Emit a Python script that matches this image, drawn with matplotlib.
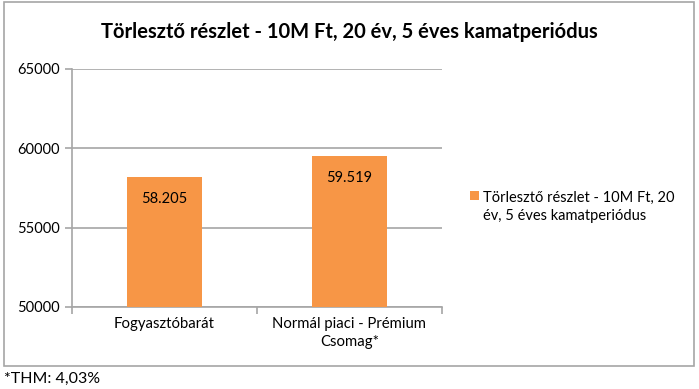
import matplotlib

matplotlib.use("Agg")
import matplotlib.pyplot as plt
from matplotlib.patches import Rectangle

# chart data
categories = ["Fogyasztóbarát", "Normál piaci - Prémium\nCsomag*"]
values = [58205, 59519]
value_labels = ["58.205", "59.519"]
y_ticks = [50000, 55000, 60000, 65000]
title = "Törlesztő részlet - 10M Ft, 20 év, 5 éves kamatperiódus"
series_name = "Törlesztő részlet - 10M Ft, 20\név, 5 éves kamatperiódus"
footnote = "*THM: 4,03%"

BAR_COLOR = "#F79646"
GRID_COLOR = "#A6A6A6"
FONT = ["Lato", "DejaVu Sans"]

plt.rcParams["font.family"] = FONT

W, H = 699, 389
fig = plt.figure(figsize=(W / 100, H / 100), dpi=100)
fig.patch.set_facecolor("white")

# outer chart frame
fig.patches.append(
    Rectangle((4 / W, 1 - 366 / H), 690 / W, 364 / H, transform=fig.transFigure,
              facecolor="none", edgecolor="#A6A6A6", linewidth=1.2)
)

ax = fig.add_axes([72 / W, 1 - 307 / H, 370 / W, 238 / H])
x = list(range(len(categories)))
ax.bar(x, values, width=0.41, color=BAR_COLOR, zorder=3)
ax.set_xlim(-0.5, len(categories) - 0.5)
ax.set_ylim(y_ticks[0], y_ticks[-1])
ax.set_yticks(y_ticks)
ax.set_yticklabels([str(t) for t in y_ticks], fontsize=10.5)
ax.yaxis.grid(True, color=GRID_COLOR, linewidth=1.2, zorder=0)

ax.set_xticks([i - 0.5 for i in range(len(categories) + 1)])
ax.set_xticklabels([])
ax.set_xticks(x, minor=True)
ax.set_xticklabels(categories, minor=True, fontsize=10.7, linespacing=1.4)
ax.tick_params(axis="x", which="minor", length=0, pad=7)
ax.tick_params(axis="x", which="major", length=5, color=GRID_COLOR, width=1.2)
ax.tick_params(axis="y", length=5, color=GRID_COLOR, width=1.2, pad=4)

for side in ["top", "right"]:
    ax.spines[side].set_visible(False)
for side in ["left", "bottom"]:
    ax.spines[side].set_color(GRID_COLOR)
    ax.spines[side].set_linewidth(1.2)

for xi, v, lab in zip(x, values, value_labels):
    ax.annotate(lab, (xi, v), xytext=(0, -11), textcoords="offset points",
                ha="center", va="top", fontsize=10.5, zorder=4)

fig.text(0.5, 1 - 32 / H, title, ha="center", va="center",
         fontsize=14.5, fontweight="bold")

# legend
fig.patches.append(
    Rectangle((470 / W, 1 - 200 / H), 9 / W, 9 / H, transform=fig.transFigure,
              facecolor=BAR_COLOR, edgecolor="none")
)
fig.text(483 / W, 1 - 207 / H, series_name, ha="left", va="center",
         fontsize=10.5, linespacing=1.45)

fig.text(4 / W, 1 - 379 / H, footnote, ha="left", va="center", fontsize=11.5)

fig.savefig("out.png", dpi=100)
